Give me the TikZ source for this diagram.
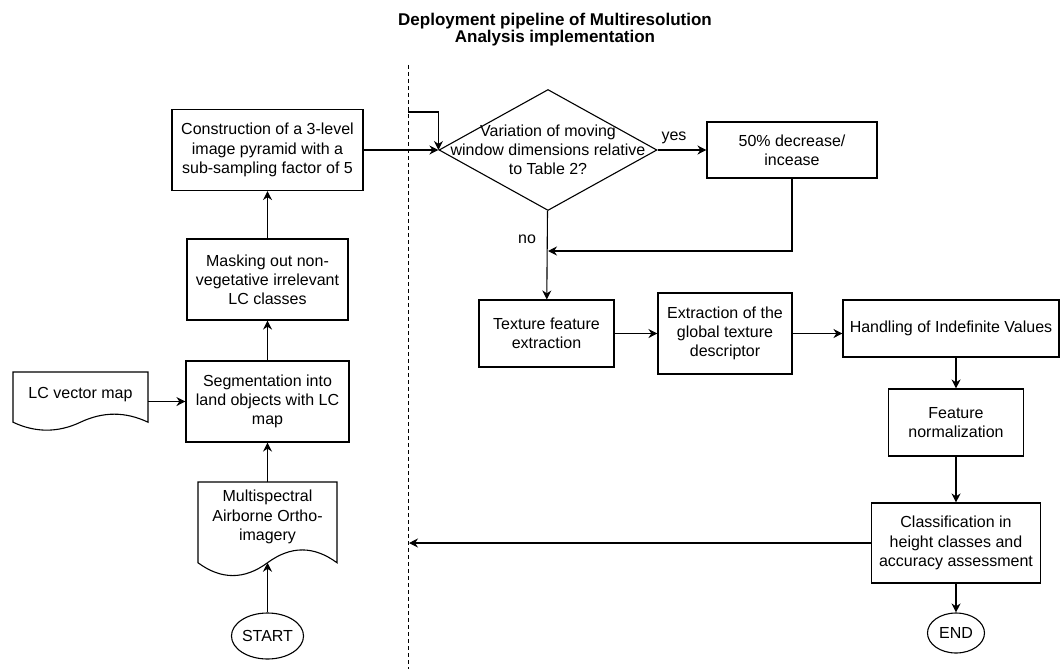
\documentclass[tikz,border=0pt]{standalone}
\usepackage{fontspec}
\setmainfont{Liberation Sans}
\usetikzlibrary{arrows.meta,shapes.geometric}

\begin{document}
\begin{tikzpicture}[x=1pt,y=-1pt,
  every node/.style={font=\fontsize{16}{19.2}\selectfont},
  box/.style={draw,line width=1.1pt,align=center,inner sep=0pt},
  arr/.style={line width=1.1pt,-{Stealth[length=9pt,width=9pt]}}]

\useasboundingbox (0,0) rectangle (1060,669);

\node[font=\fontsize{17}{17}\selectfont\bfseries,align=center] (title) at (555,30) {Deployment pipeline of Multiresolution\\Analysis implementation};

% separation line
\coordinate (septop) at (408,65);
\coordinate (sepbot) at (408,669);
\draw[line width=1pt,dash pattern=on 4pt off 3pt] (septop) -- (sepbot);

% left part
\node[box,minimum width=191pt,minimum height=81pt] (cons) at (267.5,150) {Construction of a 3-level\\image pyramid with a\\sub-sampling factor of 5};
\node[box,minimum width=161pt,minimum height=81pt] (mask) at (267.5,279.5) {Masking out non-\\vegetative irrelevant\\LC classes};
\node[box,minimum width=163pt,minimum height=81pt] (seg) at (267.5,401.5) {Segmentation into\\land objects with LC\\map};
\node[minimum width=135pt,minimum height=59pt,inner sep=0pt,label={[yshift=6.5pt]center:LC vector map}] (lcmap) at (80.5,401.5) {};
\draw[line width=1.1pt] (13,372) -- (148,372) -- (148,422.2) .. controls (125.5,411.5) and (103,411.5) .. (80.5,422.2) .. controls (58,432.8) and (35.5,432.8) .. (13,422.2) -- cycle;
\node[minimum width=139pt,minimum height=95pt,inner sep=0pt,label={[align=center,yshift=12.5pt]center:{Multispectral\\Airborne Ortho-\\imagery}}] (ms) at (267.5,529.5) {};
\draw[line width=1.1pt] (198,482) -- (337,482) -- (337,562.75) .. controls (313.8,545.65) and (290.7,545.65) .. (267.5,562.75) .. controls (244.3,579.85) and (221.2,579.85) .. (198,562.75) -- cycle;
\coordinate (msbot) at (267.5,562.75);
\node[draw,ellipse,line width=1.1pt,minimum width=58pt,minimum height=46pt,inner sep=0pt] (start) at (267.5,636) {START};

% right part
\node[draw,diamond,line width=1.1pt,minimum width=218pt,minimum height=121pt,inner sep=0pt,label={[align=center]center:{Variation of moving\\window dimensions relative\\to Table 2?}}] (dec) at (548,150) {};
\node[box,minimum width=170pt,minimum height=56pt] (vary) at (792,150) {50\% decrease/\\incease};
\node (yes) at (674,138) {yes};
\node (no) at (527,239) {no};
\coordinate (merge) at (548,251);
\coordinate (loopin) at (408,112);
\node[box,minimum width=135pt,minimum height=67pt] (tex) at (546.5,333.5) {Texture feature\\extraction};
\node[box,minimum width=134pt,minimum height=81pt] (ext) at (725,333.5) {Extraction of the\\global texture\\descriptor};
\node[box,minimum width=216pt,minimum height=57pt] (hand) at (951,328.5) {Handling of Indefinite Values};
\node[box,minimum width=135pt,minimum height=67pt] (norm) at (956,422.5) {Feature\\normalization};
\node[box,minimum width=169pt,minimum height=80pt] (cls) at (956,543) {Classification in\\height classes and\\accuracy assessment};
\node[draw,ellipse,line width=1.1pt,minimum width=57pt,minimum height=40pt,inner sep=0pt] (end) at (956,633) {END};
\coordinate (back) at (409,543);

% connectors
\draw[arr] (start) -- (msbot);
\draw[arr] (ms) -- (seg);
\draw[arr] (lcmap) -- (seg);
\draw[arr] (seg) -- (mask);
\draw[arr] (mask) -- (cons);
\draw[arr] (cons) -- (dec);
\draw[arr] (loopin) -| (dec.west);
\draw[arr] (dec) -- (vary);
\draw[arr] (vary) |- (merge);
\draw[arr] (dec) -- (tex);
\draw[arr] (tex) -- (ext);
\draw[arr] (ext) -- (ext -| hand.west);
\draw[arr] (hand.south -| norm) -- (norm);
\draw[arr] (norm) -- (cls);
\draw[arr] (cls) -- (end);
\draw[arr] (cls) -- (back);

\end{tikzpicture}
\end{document}
